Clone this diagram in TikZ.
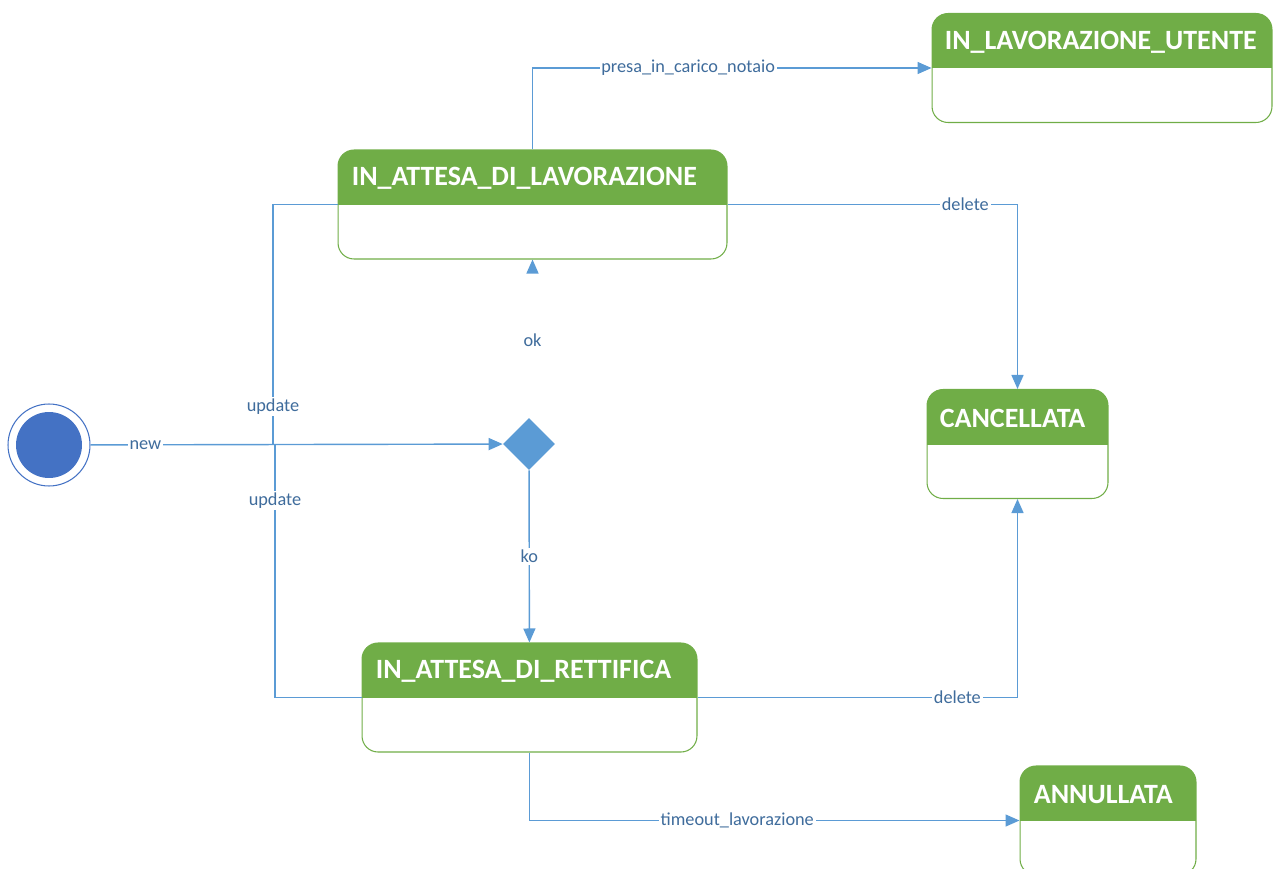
\documentclass[tikz,border=0pt]{standalone}
\usepackage{fontspec}
\setmainfont{Carlito}
\usetikzlibrary{
    positioning,
    arrows.meta,
    shapes.geometric
}
\definecolor{stategreen}{HTML}{70AD47}
\definecolor{flowblue}{HTML}{5B9BD5}
\definecolor{startblue}{HTML}{4472C4}
\definecolor{labelblue}{HTML}{3F6C9C}

\tikzset{
    state/.style={rectangle, draw=stategreen, line width=0.6pt, rounded corners=0.32cm,
        minimum height=2.18cm, inner sep=0pt,
        path picture={\fill[stategreen, sharp corners] (path picture bounding box.north west)
            rectangle ([yshift=-1.1cm]path picture bounding box.north east);}},
    statetitle/.style={anchor=west, text=white, inner sep=0pt,
        font=\fontsize{15.9}{18}\selectfont\bfseries},
    flow/.style={draw=flowblue, line width=0.8pt, -{Triangle[length=0.28cm, width=0.24cm]}},
    plain/.style={draw=flowblue, line width=0.8pt},
    lbl/.style={fill=white, text=labelblue, inner sep=1pt,
        font=\fontsize{10.4}{12}\selectfont}
}

\begin{document}
\begin{tikzpicture}[x=0.02cm, y=-0.02cm]
    \useasboundingbox (0,0) rectangle (1273,868);

    % Start
    \node[circle, draw=startblue, line width=0.6pt, minimum size=1.64cm, inner sep=0pt,
        path picture={\fill[startblue] (path picture bounding box.center) circle (0.66cm);}]
        (S) at (49,445) {};

    % Decision
    \node[diamond, fill=flowblue, minimum width=1.04cm, minimum height=1.04cm, inner sep=0pt]
        (D) at (529,444) {};

    % States
    \node[state, minimum width=7.78cm] (LAV) at (532.5,204.5) {};
    \node[statetitle] (LAVt) at ([xshift=0.28cm, yshift=-0.58cm]LAV.north west) {IN\_ATTESA\_DI\_LAVORAZIONE};

    \node[state, minimum width=6.8cm] (UTE) at (1102,68) {};
    \node[statetitle] (UTEt) at ([xshift=0.26cm, yshift=-0.58cm]UTE.north west) {IN\_LAVORAZIONE\_UTENTE};

    \node[state, minimum width=3.62cm] (CAN) at (1017.5,444) {};
    \node[statetitle] (CANt) at ([xshift=0.26cm, yshift=-0.58cm]CAN.north west) {CANCELLATA};

    \node[state, minimum width=6.7cm] (RET) at (529.5,697.5) {};
    \node[statetitle] (RETt) at ([xshift=0.28cm, yshift=-0.58cm]RET.north west) {IN\_ATTESA\_DI\_RETTIFICA};

    \node[state, minimum width=3.52cm] (ANN) at (1108,820.5) {};
    \node[statetitle] (ANNt) at ([xshift=0.28cm, yshift=-0.58cm]ANN.north west) {ANNULLATA};

    % Junctions on the new line
    \coordinate (J1) at (273,445);
    \coordinate (J2) at (275,445);

    % Transitions
    \draw[flow] (S) -- node[lbl, pos=0.133] {new} (D);
    \draw[plain] ([yshift=-1.1cm]LAV.north west) -| node[lbl, pos=0.92] {update} (J1);
    \draw[plain] ([yshift=-1.1cm]RET.north west) -| node[lbl, pos=0.89] {update} (J2);
    \draw[white, line width=0.8pt, -{Triangle[length=0.28cm, width=0.24cm, color=flowblue]}]
        (LAV.south |- D.north) -- node[lbl, pos=0.49] {ok} (LAV.south);
    \draw[flow] (D) -- node[lbl] {ko} (RET);
    \draw[flow] (LAV.north) |- node[lbl, pos=0.695] {presa\_in\_carico\_notaio} (UTE.west);
    \draw[flow] ([yshift=-1.1cm]LAV.north east) -| node[lbl, pos=0.41] {delete} (CAN.north);
    \draw[flow] ([yshift=-1.1cm]RET.north east) -| node[lbl, pos=0.406] {delete} (CAN.south);
    \draw[flow] (RET.south) |- node[lbl, pos=0.712] {timeout\_lavorazione} (ANN.west);
\end{tikzpicture}
\end{document}
